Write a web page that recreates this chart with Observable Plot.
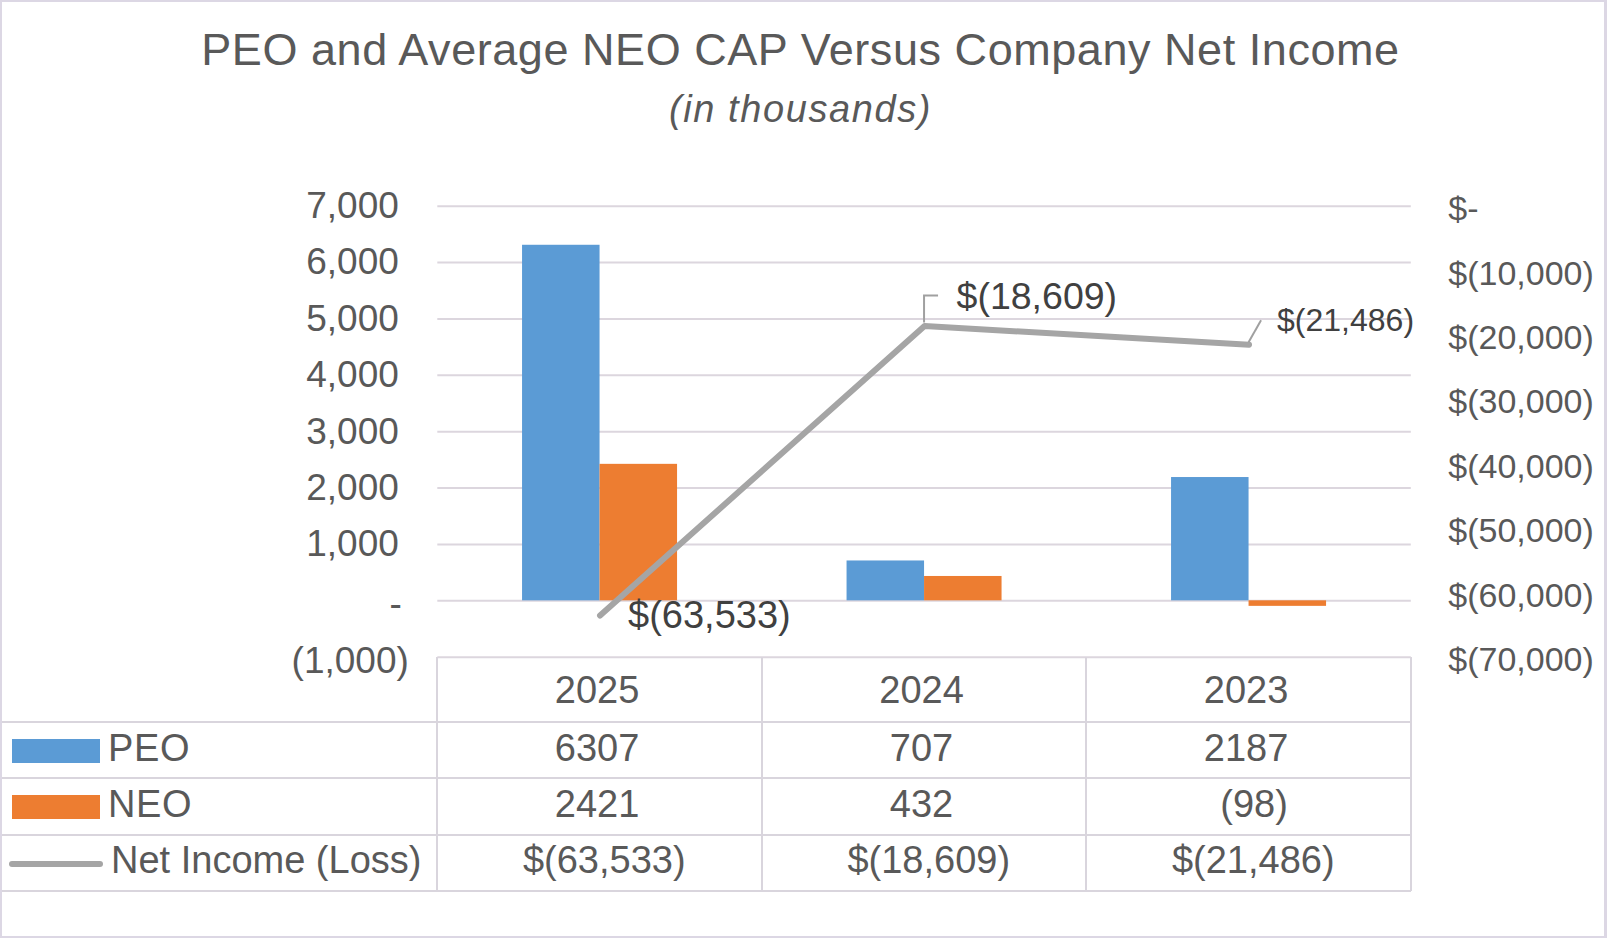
<!DOCTYPE html>
<html><head><meta charset="utf-8">
<script src="https://cdn.jsdelivr.net/npm/d3@7"></script>
<script src="https://cdn.jsdelivr.net/npm/@observablehq/plot@0.6"></script>
<style>
html,body{margin:0;padding:0;background:#fff;}
#wrap{position:relative;width:1607px;height:938px;overflow:hidden;font-family:"Liberation Sans",Arial,sans-serif;color:#595959;background:#fff;}
#frame{position:absolute;left:0;top:0;width:1607px;height:938px;box-sizing:border-box;border:2px solid #dcd7e4;border-right-width:3px;pointer-events:none;}
.ttl{position:absolute;left:-3px;width:1607px;text-align:center;white-space:nowrap;}
#t1{top:27px;font-size:45px;line-height:45px;letter-spacing:0.55px;}
#t2{top:90px;font-size:38px;line-height:38px;font-style:italic;letter-spacing:1.6px;}
#chart{position:absolute;left:0;top:150px;}
.hl{position:absolute;height:2px;background:#d9d5dd;}
.vl{position:absolute;width:2px;background:#d9d5dd;}
.cell{position:absolute;font-size:38px;white-space:nowrap;text-align:center;}
.lab{position:absolute;white-space:nowrap;}
.sw{position:absolute;}
</style>
</head><body>
<div id="wrap">
  <div class="ttl" id="t1">PEO and Average NEO CAP Versus Company Net Income</div>
  <div class="ttl" id="t2">(in thousands)</div>
  <div id="chart"></div>
  <div id="table"></div>
  <div id="frame"></div>
</div>
<script>
// ---- data ----
const years = ["2025", "2024", "2023"];
const peo = [6307, 707, 2187];
const neo = [2421, 432, -98];
const netIncome = [-63533, -18609, -21486];
const leftTicks = [7000, 6000, 5000, 4000, 3000, 2000, 1000, 0, -1000];
const rightTicks = [0, -10000, -20000, -30000, -40000, -50000, -60000, -70000];
const seriesNames = ["PEO", "NEO", "Net Income (Loss)"];
const colors = ["#5B9BD5", "#ED7D31", "#A5A5A5"];
const leftDomain = [-1000, 7000];
const rightDomain = [-70000, 0];

// ---- helpers ----
const toLeft = d3.scaleLinear(rightDomain, leftDomain);
const comma = d3.format(",");
const leftFmt = v => v === 0 ? "-" : v < 0 ? `(${comma(-v)})` : comma(v);
const rightFmt = v => v === 0 ? "$-" : v < 0 ? `$(${comma(-v)})` : `$${comma(v)}`;
const cellFmt = v => v < 0 ? `(${-v})` : `${v}`;

const rows = years.map((year, i) => ({year, peo: peo[i], neo: neo[i], ni: netIncome[i], yNI: toLeft(netIncome[i])}));

const W = 1607, H = 560, TOP = 150;
const plotTop = 205.7 - TOP, plotBottom = 656.7 - TOP;
const plotLeft = 437.3, plotRight = 1410.8;
const band = (plotRight - plotLeft) / years.length;
const half = band / 2, barW = 77.5;

function leaders(index, scales) {
  const x = scales.x, y = scales.y;
  const bw = x.bandwidth ? x.bandwidth() : 0;
  const g = d3.create("svg:g").attr("fill", "none").attr("stroke", "#A0A0A0").attr("stroke-width", 2);
  const x1 = x(years[1]) + bw / 2, y1 = y(toLeft(netIncome[1]));
  g.append("path").attr("d", `M${x1},${y1 - 3}V${y1 - 30}H${x1 + 14}`);
  const x2 = x(years[2]) + bw / 2, y2 = y(toLeft(netIncome[2]));
  g.append("path").attr("d", `M${x2},${y2 - 2}L${x2 + 12.5},${y2 - 24}`);
  return g.node();
}

const chart = Plot.plot({
  width: W, height: H,
  marginTop: plotTop, marginBottom: H - plotBottom,
  marginLeft: plotLeft, marginRight: W - plotRight,
  style: {background: "transparent", fontFamily: "'Liberation Sans', Arial, sans-serif", overflow: "visible"},
  x: {type: "band", domain: years, padding: 0, round: false, axis: null},
  y: {domain: leftDomain, axis: null},
  marks: [
    Plot.ruleY(leftTicks, {stroke: "#dcd6de", strokeWidth: 2}),
    Plot.barY(rows, {x: "year", y: "peo", fill: colors[0], insetLeft: half - barW, insetRight: half}),
    Plot.barY(rows, {x: "year", y: "neo", fill: colors[1], insetLeft: half, insetRight: half - barW}),
    Plot.line(rows, {x: "year", y: "yNI", stroke: colors[2], strokeWidth: 6, strokeLinecap: "round", strokeLinejoin: "round"}),
    leaders,
    // data labels
    Plot.text(rows.filter((d, i) => i === 0), {x: "year", y: "yNI", text: d => rightFmt(d.ni), textAnchor: "start", dx: 28, dy: 0, fontSize: 38, fill: "#404040"}),
    Plot.text(rows.filter((d, i) => i === 1), {x: "year", y: "yNI", text: d => rightFmt(d.ni), textAnchor: "start", dx: 32, dy: -29, fontSize: 37.5, fill: "#404040"}),
    Plot.text(rows.filter((d, i) => i === 2), {x: "year", y: "yNI", text: d => rightFmt(d.ni), textAnchor: "start", dx: 28, dy: -24, fontSize: 32, fill: "#404040"}),
    // left axis labels
    Plot.text(leftTicks.filter(v => v > 0), {y: d => d, text: leftFmt, frameAnchor: "left", textAnchor: "end", dx: -39, fontSize: 37, fill: "#595959"}),
    Plot.text(leftTicks.filter(v => v === 0), {y: d => d, text: leftFmt, frameAnchor: "left", textAnchor: "end", dx: -36, dy: 3, fontSize: 37, fill: "#595959"}),
    Plot.text(leftTicks.filter(v => v < 0), {y: d => d, text: leftFmt, frameAnchor: "left", textAnchor: "end", dx: -29, dy: 4, fontSize: 37, fill: "#595959"}),
    // right axis labels
    Plot.text(rightTicks, {y: d => toLeft(d), text: rightFmt, frameAnchor: "right", textAnchor: "start", dx: 37, dy: 3, fontSize: 34, fill: "#595959"})
  ]
});
document.getElementById("chart").appendChild(chart);

// ---- data table (Excel-style) aligned to the plot's x scale ----
const sx = chart.scale("x"), sy = chart.scale("y");
const tbl = document.getElementById("table");
const tTop = TOP + sy.apply(leftDomain[0]);
const rowH = [65.3, 56.3, 56.5, 56.5];
const rowY = [tTop];
rowH.forEach(h => rowY.push(rowY[rowY.length - 1] + h));
const right = sx.apply(years[years.length - 1]) + sx.bandwidth;
function add(cls, css, text) {
  const d = document.createElement("div");
  d.className = cls;
  Object.assign(d.style, css);
  if (text != null) d.textContent = text;
  tbl.appendChild(d);
  return d;
}
for (let r = 1; r < rowY.length; r++) add("hl", {left: "0px", top: (rowY[r] - 1) + "px", width: right + "px"});
years.forEach(y => add("vl", {left: (sx.apply(y) - 1) + "px", top: rowY[0] + "px", height: (rowY[4] - rowY[0]) + "px"}));
add("vl", {left: (right - 1) + "px", top: rowY[0] + "px", height: (rowY[4] - rowY[0]) + "px"});

const bodyVals = [peo.map(cellFmt), neo.map(cellFmt), netIncome.map(rightFmt)];
years.forEach((y, i) => {
  const x = sx.apply(y);
  add("cell", {left: (x - 2.5) + "px", top: (rowY[0] + 1.5) + "px", width: sx.bandwidth + "px", height: rowH[0] + "px", lineHeight: rowH[0] + "px"}, y);
  bodyVals.forEach((vals, r) => {
    const t = vals[i];
    const shift = t.startsWith("$(") ? 4.7 : t.startsWith("(") ? 5.5 : -2.5;
    add("cell", {left: (x + shift) + "px", top: (rowY[r + 1] - 2.5) + "px", width: sx.bandwidth + "px", height: rowH[r + 1] + "px", lineHeight: rowH[r + 1] + "px"}, t);
  });
});
// legend keys in the first column
seriesNames.forEach((name, r) => {
  const cy = (rowY[r + 1] + rowY[r + 2]) / 2;
  if (r < 2) add("sw", {left: "12px", top: (cy - 11.5) + "px", width: "88px", height: "24px", background: colors[r]});
  else add("sw", {left: "9px", top: (cy - 2.5) + "px", width: "94px", height: "6px", borderRadius: "3px", background: colors[r]});
  add("lab", {left: (r < 2 ? 108 : 111) + "px", top: (rowY[r + 1] - 2.5) + "px", height: rowH[r + 1] + "px", lineHeight: rowH[r + 1] + "px",
    fontSize: "38px", letterSpacing: (r < 2 ? 0.6 : 0) + "px"}, name);
});
</script>
</body></html>
